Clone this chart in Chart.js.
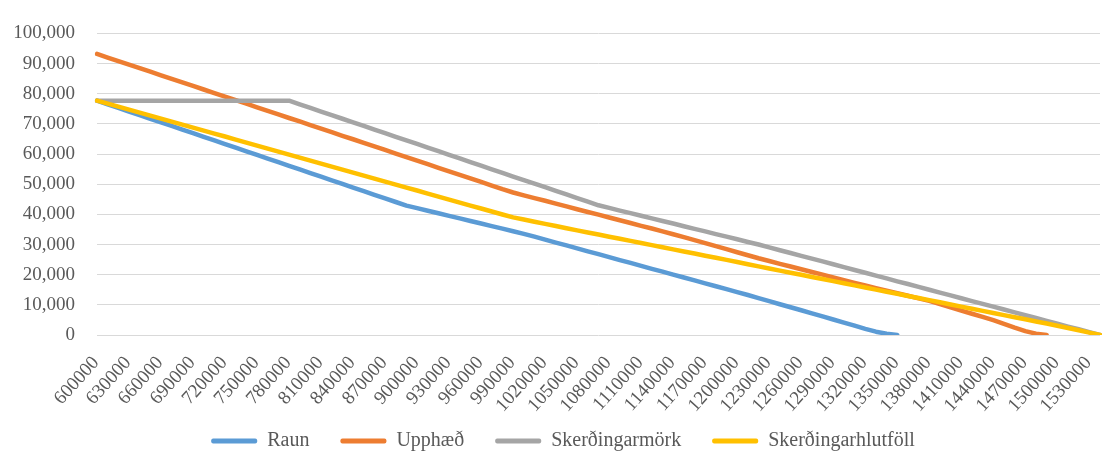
<!DOCTYPE html>
<html>
<head>
<meta charset="utf-8">
<script src="https://cdn.jsdelivr.net/npm/chart.js@4.4.1/dist/chart.umd.min.js"></script>
<style>
    body { margin: 0; background: #ffffff; }
    canvas { display: block; }
</style>
</head>
<body>
<canvas id="skerding" width="1102" height="463"></canvas>
<script>
// tekjur (x-ás), 10.000 kr. bil
const tekjur = [
    600000, 610000, 620000, 630000, 640000, 650000, 660000, 670000, 680000, 690000,
    700000, 710000, 720000, 730000, 740000, 750000, 760000, 770000, 780000, 790000,
    800000, 810000, 820000, 830000, 840000, 850000, 860000, 870000, 880000, 890000,
    900000, 910000, 920000, 930000, 940000, 950000, 960000, 970000, 980000, 990000,
    1000000, 1010000, 1020000, 1030000, 1040000, 1050000, 1060000, 1070000, 1080000, 1090000,
    1100000, 1110000, 1120000, 1130000, 1140000, 1150000, 1160000, 1170000, 1180000, 1190000,
    1200000, 1210000, 1220000, 1230000, 1240000, 1250000, 1260000, 1270000, 1280000, 1290000,
    1300000, 1310000, 1320000, 1330000, 1340000, 1350000, 1360000, 1370000, 1380000, 1390000,
    1400000, 1410000, 1420000, 1430000, 1440000, 1450000, 1460000, 1470000, 1480000, 1490000,
    1500000, 1510000, 1520000, 1530000, 1540000
];

const raun = [
    77700, 76500, 75300, 74100, 72900, 71700, 70500, 69300, 68100, 66900,
    65700, 64500, 63300, 62100, 60900, 59700, 58500, 57300, 56100, 54900,
    53700, 52500, 51300, 50100, 48900, 47700, 46500, 45300, 44100, 42900,
    42050, 41200, 40350, 39500, 38650, 37800, 36950, 36100, 35250, 34400,
    33550, 32600, 31600, 30650, 29700, 28700, 27750, 26800, 25800, 24850,
    23900, 22900, 21950, 21000, 20000, 19050, 18100, 17100, 16150, 15200,
    14200, 13250, 12250, 11250, 10200, 9200, 8200, 7150, 6150, 5150,
    4100, 3100, 2050, 1100, 400, 0, null, null, null, null,
    null, null, null, null, null, null, null, null, null, null,
    null, null, null, null, null
];

const upphaed = [
    93200, 92000, 90800, 89650, 88450, 87300, 86100, 84950, 83750, 82600,
    81400, 80200, 79050, 77850, 76700, 75500, 74300, 73150, 71950, 70800,
    69600, 68450, 67250, 66050, 64900, 63700, 62550, 61350, 60150, 59000,
    57800, 56650, 55450, 54250, 53100, 51900, 50750, 49550, 48350, 47250,
    46300, 45400, 44500, 43550, 42650, 41700, 40800, 39900, 38950, 38050,
    37150, 36200, 35300, 34350, 33400, 32450, 31450, 30450, 29450, 28450,
    27450, 26450, 25450, 24550, 23600, 22700, 21800, 20900, 20000, 19050,
    18150, 17250, 16400, 15550, 14700, 13850, 13000, 12150, 11300, 10250,
    9200, 8100, 7050, 6000, 4900, 3700, 2450, 1300, 450, 0,
    null, null, null, null, null
];

const skerdingarmork = [
    77700, 77700, 77700, 77700, 77700, 77700, 77700, 77700, 77700, 77700,
    77700, 77700, 77700, 77700, 77700, 77700, 77700, 77700, 77700, 76500,
    75300, 74100, 72900, 71700, 70500, 69300, 68100, 66900, 65700, 64500,
    63350, 62150, 60950, 59750, 58550, 57350, 56150, 54950, 53750, 52550,
    51350, 50200, 49000, 47800, 46600, 45400, 44200, 43000, 42150, 41250,
    40400, 39550, 38650, 37800, 36950, 36050, 35200, 34350, 33450, 32600,
    31750, 30850, 30000, 29050, 28100, 27200, 26250, 25300, 24400, 23450,
    22500, 21550, 20650, 19700, 18750, 17800, 16900, 15950, 15000, 14050,
    13150, 12200, 11250, 10300, 9400, 8450, 7500, 6550, 5650, 4700,
    3750, 2800, 1900, 950, 0
];

const skerdingarhlutfoll = [
    77700, 76700, 75700, 74700, 73750, 72750, 71750, 70750, 69750, 68750,
    67750, 66750, 65800, 64800, 63800, 62800, 61800, 60800, 59800, 58800,
    57800, 56800, 55850, 54850, 53850, 52850, 51850, 50850, 49850, 48850,
    47900, 46900, 45900, 44900, 43900, 42900, 41950, 40950, 39950, 39000,
    38300, 37550, 36850, 36150, 35400, 34700, 34000, 33300, 32600, 31900,
    31200, 30500, 29800, 29100, 28400, 27700, 27000, 26300, 25600, 24900,
    24200, 23450, 22750, 22050, 21350, 20650, 19950, 19250, 18550, 17850,
    17150, 16450, 15750, 15050, 14350, 13650, 12950, 12250, 11550, 10850,
    10100, 9400, 8700, 8000, 7300, 6600, 5900, 5200, 4500, 3800,
    3050, 2300, 1550, 800, 0
];

const textColor = '#595959';
const fontFamily = '"Liberation Serif", "Times New Roman", serif';

function thousands(v) {
    return String(v).replace(/\B(?=(\d{3})+(?!\d))/g, ',');
}

function makeLine(label, data, color, order) {
    return {
        label: label,
        data: data,
        borderColor: color,
        backgroundColor: color,
        borderWidth: 4.5,
        borderCapStyle: 'round',
        borderJoinStyle: 'round',
        pointRadius: 0,
        pointHoverRadius: 0,
        tension: 0,
        spanGaps: false,
        order: order
    };
}

// skýringarnar: aðeins til hægri og upp, svo x-ásinn hafi pláss fyrir hallandi merki
const legendShift = {
    id: 'legendShift',
    afterLayout(chart) {
        chart.legend.left += 13;
        chart.legend.right += 13;
        chart.legend.top -= 15;
    }
};

const config = {
    type: 'line',
    data: {
        labels: tekjur,
        datasets: [
            makeLine('Raun', raun, '#5B9BD5', 4),
            makeLine('Upphæð', upphaed, '#ED7D31', 3),
            makeLine('Skerðingarmörk', skerdingarmork, '#A5A5A5', 2),
            makeLine('Skerðingarhlutföll', skerdingarhlutfoll, '#FFC000', 1)
        ]
    },
    options: {
        responsive: false,
        animation: false,
        layout: { padding: { top: 20, right: 2, bottom: 2, left: 0 } },
        scales: {
            x: {
                grid: { display: false },
                border: { display: false },
                ticks: {
                    autoSkip: false,
                    minRotation: 48,
                    maxRotation: 48,
                    padding: 9,
                    labelOffset: -1,
                    color: textColor,
                    font: { family: fontFamily, size: 19 },
                    callback: (v, i) => (i % 3 === 0 ? String(tekjur[i]) : null)
                },
                afterFit: s => {
                    s.height = 80;
                    s.paddingLeft = 0;
                    s.paddingRight = 0;
                }
            },
            y: {
                min: 0,
                max: 100000,
                grid: { color: '#d9d9d9', lineWidth: 1, drawTicks: false },
                border: { display: false },
                ticks: {
                    stepSize: 10000,
                    padding: 22,
                    color: textColor,
                    font: { family: fontFamily, size: 19 },
                    callback: v => thousands(v)
                },
                afterFit: s => { s.width = 97; }
            }
        },
        plugins: {
            tooltip: { enabled: false },
            legend: {
                position: 'bottom',
                maxHeight: 46,
                labels: {
                    boxWidth: 46,
                    boxHeight: 5,
                    padding: 31,
                    color: textColor,
                    font: { family: fontFamily, size: 20 },
                    sort: (a, b) => a.datasetIndex - b.datasetIndex,
                    generateLabels: chart => Chart.defaults.plugins.legend.labels.generateLabels(chart)
                        .map(item => Object.assign(item, { lineWidth: 0, borderRadius: 2 }))
                }
            }
        }
    },
    plugins: [legendShift]
};

const skerding = new Chart(document.getElementById('skerding'), config);
</script>
</body>
</html>
